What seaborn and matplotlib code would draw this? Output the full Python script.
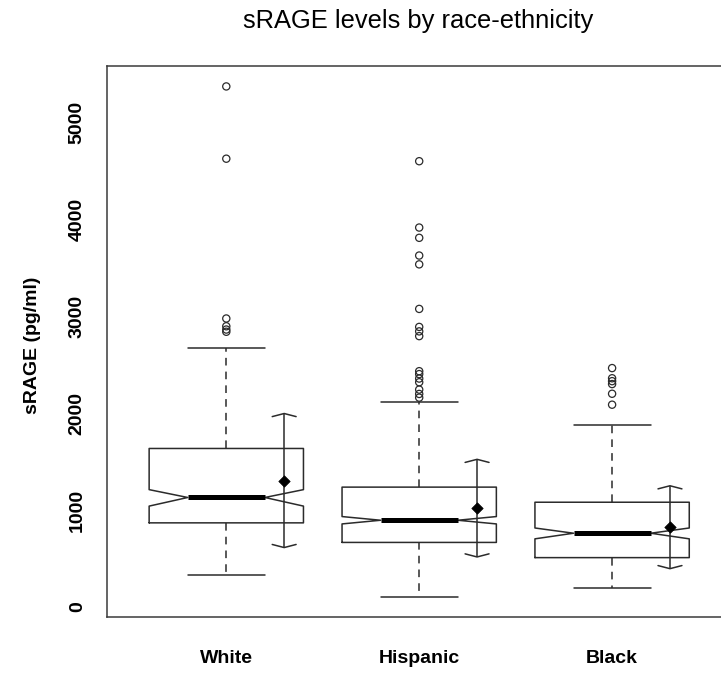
import numpy as np
import pandas as pd
import matplotlib
matplotlib.use('Agg')
import matplotlib.pyplot as plt
import seaborn as sns

# summary stats (pg/ml)
groups = ['White', 'Hispanic', 'Black']
q1 = [867, 665, 508]
medians = [1129, 894, 760]
q3 = [1635, 1236, 1080]
whisk_lo = [331, 106, 192]
whisk_hi = [2669, 2118, 1876]
notch_lo = [1040, 856, 702]
notch_hi = [1210, 932, 814]
means = [1304, 1019, 822]
sds = [692, 504, 428]

outliers_white = [5373, 4627, 2977, 2897, 2863, 2840]
outliers_hispanic = [4601, 3916, 3810, 3627, 3536, 3076, 2890, 2844, 2795,
                     2433, 2403, 2357, 2319, 2243, 2198, 2160]
outliers_black = [2465, 2360, 2330, 2300, 2200, 2087]

title = 'sRAGE levels by race-ethnicity'
ylabel = 'sRAGE (pg/ml)'
yticks = [0, 1000, 2000, 3000, 4000, 5000]

sns.set_style('white')
plt.rcParams['font.family'] = ['Liberation Sans', 'DejaVu Sans']
plt.rcParams['text.color'] = 'black'

line_col = '#2b2b2b'
positions = np.arange(1, len(groups) + 1)

fig = plt.figure(figsize=(7.21, 6.73), dpi=100)
ax = fig.add_axes([106.7 / 721, 56 / 673, 625 / 721, 551 / 673])

stats = []
for i, g in enumerate(groups):
    stats.append(dict(label=g, q1=q1[i], med=medians[i], q3=q3[i],
                      whislo=whisk_lo[i], whishi=whisk_hi[i],
                      cilo=notch_lo[i], cihi=notch_hi[i], fliers=[]))

ax.bxp(stats, positions=positions, widths=0.8, shownotches=True,
       showfliers=False, patch_artist=False,
       boxprops=dict(color=line_col, lw=1.1),
       whiskerprops=dict(color=line_col, lw=1.1, linestyle=(0, (5, 4))),
       capprops=dict(color=line_col, lw=1.1),
       medianprops=dict(color='black', lw=3.6, solid_capstyle='butt'))

# outliers
out_df = pd.DataFrame({
    'pos': np.concatenate([[p] * len(o) for p, o in
                           zip(positions, [outliers_white, outliers_hispanic, outliers_black])]),
    'value': outliers_white + outliers_hispanic + outliers_black,
})
sns.scatterplot(data=out_df, x='pos', y='value', ax=ax, marker='o', s=27,
                facecolor='none', edgecolor=line_col, linewidth=0.9, zorder=3)

# mean +/- sd to the right of each box
sd_x = positions + 0.3
mean_df = pd.DataFrame({'pos': sd_x, 'mean': means})
ax.vlines(sd_x, np.array(means) - np.array(sds), np.array(means) + np.array(sds),
          color=line_col, lw=1.1)
cap_w, cap_d = 0.062, 32
for x, m, s in zip(sd_x, means, sds):
    ax.plot([x - cap_w, x, x + cap_w], [m + s - cap_d, m + s, m + s - cap_d],
            color=line_col, lw=1.1)
    ax.plot([x - cap_w, x, x + cap_w], [m - s + cap_d, m - s, m - s + cap_d],
            color=line_col, lw=1.1)
sns.scatterplot(data=mean_df, x='pos', y='mean', ax=ax, marker='D', s=34,
                color='black', edgecolor='black', zorder=4)

ax.set_xlim(0.38, 3.62)
ax.set_ylim(-105, 5584)
ax.set_xticks(positions)
ax.set_xticklabels(groups, fontsize=14, fontweight='bold')
ax.set_yticks(yticks)
ax.set_yticklabels([str(t) for t in yticks], fontsize=14, fontweight='bold',
                   rotation=90, va='center')
ax.set_xlabel('')
ax.set_ylabel('')
ax.tick_params(axis='both', direction='out', length=8, width=1, color=line_col,
               labelcolor='black')
ax.tick_params(axis='x', pad=16)
ax.tick_params(axis='y', pad=7)
for sp in ax.spines.values():
    sp.set_visible(True)
    sp.set_color('#3a3a3a')
    sp.set_linewidth(1.1)

fig.text(418 / 721, 1 - 28 / 673, title, ha='center', va='baseline',
         fontsize=18.4, color='black')
fig.text(32.5 / 721, 1 - 345 / 673, ylabel, ha='center', va='center',
         rotation=90, fontsize=14, fontweight='bold', color='black')

fig.savefig('out.png', dpi=100)
